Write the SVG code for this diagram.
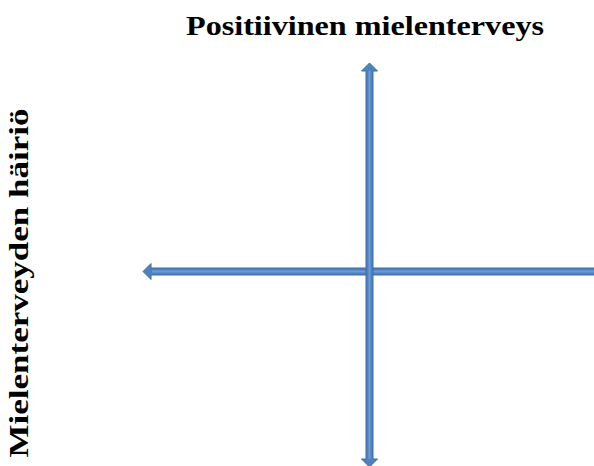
<svg xmlns="http://www.w3.org/2000/svg" width="594" height="466" viewBox="0 0 594 466">
<style>
.lbl{font-family:"Liberation Serif","Times New Roman",serif;font-weight:bold;font-size:27px;fill:#000}
.arr{fill:#4f81bd;stroke:#3c6da6;stroke-width:1}
.hl{stroke:#6d9bd6;stroke-width:2;fill:none}
</style>
<rect width="594" height="466" fill="#fff"/>
<g id="title"><text class="lbl" x="365" y="35" text-anchor="middle" textLength="358" lengthAdjust="spacingAndGlyphs">Positiivinen mielenterveys</text></g>
<g id="ylabel"><text class="lbl" transform="translate(28,283) rotate(-90)" text-anchor="middle" textLength="349" lengthAdjust="spacingAndGlyphs">Mielenterveyden häiriö</text></g>
<g id="connectors">
<polygon class="arr" points="143,271.5 151,263.5 151,268 600,268 600,275 151,275 151,279.5"/>
<line class="hl" x1="152" y1="271.5" x2="594" y2="271.5"/>
<polygon class="arr" points="369.5,63 377.5,71 373,71 373,459 377.5,459 369.5,467 361.5,459 366,459 366,71 361.5,71"/>
<line class="hl" x1="369.5" y1="71" x2="369.5" y2="459"/>
</g>
</svg>
